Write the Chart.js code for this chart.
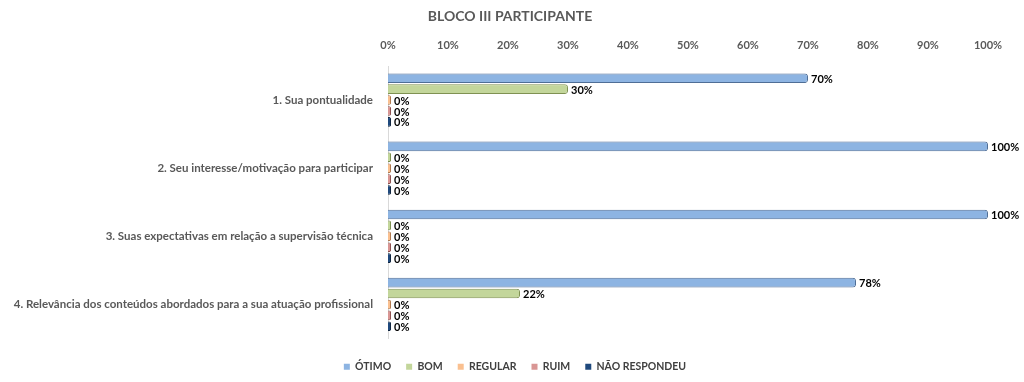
<!DOCTYPE html>
<html><head><meta charset="utf-8">
<script src="https://cdn.jsdelivr.net/npm/chart.js@4.4.1/dist/chart.umd.min.js"></script>
<style>html,body{margin:0;padding:0;background:#fff;}#wrap{width:1024px;height:382px;}</style>
</head><body><div id="wrap"><canvas id="c" width="1024" height="382"></canvas></div>
<script>
const categories = [
  "1. Sua pontualidade",
  "2. Seu interesse/motivação para participar",
  "3. Suas expectativas em relação a supervisão técnica",
  "4. Relevância dos conteúdos abordados para a sua atuação profissional"
];
const seriesNames = ["ÓTIMO", "BOM", "REGULAR", "RUIM", "NÃO RESPONDEU"];
const otimo = [70, 100, 100, 78];
const bom = [30, 0, 0, 22];
const regular = [0, 0, 0, 0];
const ruim = [0, 0, 0, 0];
const naoRespondeu = [0, 0, 0, 0];
const xTicks = [0,10,20,30,40,50,60,70,80,90,100];

const FONT = "Lato, 'Open Sans', sans-serif";
const fills = [["#B9D3F2","#8DB4E2","#5F86B8"],["#D8E6BC","#C3D69B","#8FA564"],["#FCD5B4","#FAC090","#C98C5C"],["#E8BAB9","#D99694","#A66361"],["#3C6BA5","#1F497D","#132C4D"]];
const borders = ["#4F6E96","#7F9152","#B07A50","#8E5250","#10253F"];

function grad(i){
  return function(ctx){
    const el = ctx.element;
    if(!el || el.y === undefined) return fills[i][1];
    const h = el.height || 9;
    const g = ctx.chart.ctx.createLinearGradient(0, el.y - h/2, 0, el.y + h/2);
    g.addColorStop(0, fills[i][0]);
    g.addColorStop(0.45, fills[i][1]);
    g.addColorStop(1, fills[i][2]);
    return g;
  };
}

const seriesData = [otimo, bom, regular, ruim, naoRespondeu];
const datasets = seriesNames.map((n,i)=>({
  label: n,
  data: seriesData[i],
  backgroundColor: grad(i),
  borderColor: borders[i],
  borderWidth: 1,
  borderRadius: 3,
  borderSkipped: 'start',
  minBarLength: 3,
  barPercentage: 0.88,
  categoryPercentage: 0.8
}));

const labelPlugin = {
  id: 'vlabels',
  afterLayout(chart){
    if(chart.legend){ chart.legend.top += 8; chart.legend.bottom += 8; }
    if(chart.titleBlock){ chart.titleBlock.left -= 5; chart.titleBlock.right -= 5; }
  },
  afterDatasetsDraw(chart){
    const ctx = chart.ctx;
    ctx.save();
    ctx.font = "bold 11px " + FONT;
    ctx.fillStyle = "#000";
    ctx.textBaseline = "middle";
    ctx.textAlign = "left";
    chart.data.datasets.forEach((ds,di)=>{
      const meta = chart.getDatasetMeta(di);
      meta.data.forEach((el,j)=>{
        ctx.fillText(ds.data[j] + "%", el.x + 3, el.y + 1);
      });
    });
    ctx.restore();
  }
};

new Chart(document.getElementById('c'), {
  type: 'bar',
  data: { labels: categories, datasets },
  options: {
    indexAxis: 'y',
    responsive: false,
    animation: false,
    layout: { padding: { left: 6, right: 0, top: 4, bottom: 8 } },
    scales: {
      x: {
        position: 'top',
        min: 0, max: 100,
        afterBuildTicks(s){ s.ticks = xTicks.map(v=>({value:v})); },
        ticks: { callback: v => v + "%", color: "#595959", font: { family: FONT, size: 11, weight: 'bold' }, padding: 6, maxRotation: 0 },
        grid: { display: false },
        border: { display: false }
      },
      y: {
        afterFit(s){ s.width = 382; },
        ticks: { color: "#595959", font: { family: FONT, size: 11.5, weight: 'bold' }, padding: 7 },
        grid: { display: false },
        border: { display: true, color: "#D9D9D9", width: 1 }
      },
      yr: {
        type: 'category',
        position: 'right',
        afterFit(s){ s.width = 36; },
        ticks: { display: false },
        grid: { display: false },
        border: { display: false }
      }
    },
    plugins: {
      title: { display: true, text: "BLOCO III PARTICIPANTE", color: "#595959", font: { family: FONT, size: 14, weight: 'bold' }, padding: { top: 4, bottom: 8 } },
      legend: { position: 'bottom', labels: { boxWidth: 6, boxHeight: 6, color: "#404040", padding: 15, font: { family: FONT, size: 10.5, weight: 'bold' },
        generateLabels(chart){ return chart.data.datasets.map((d,i)=>({text:d.label, fillStyle: fills[i][1], strokeStyle: fills[i][1], lineWidth:0, datasetIndex:i, fontColor:"#404040"})); } } },
      tooltip: { enabled: false }
    }
  },
  plugins: [labelPlugin]
});
</script></body></html>
